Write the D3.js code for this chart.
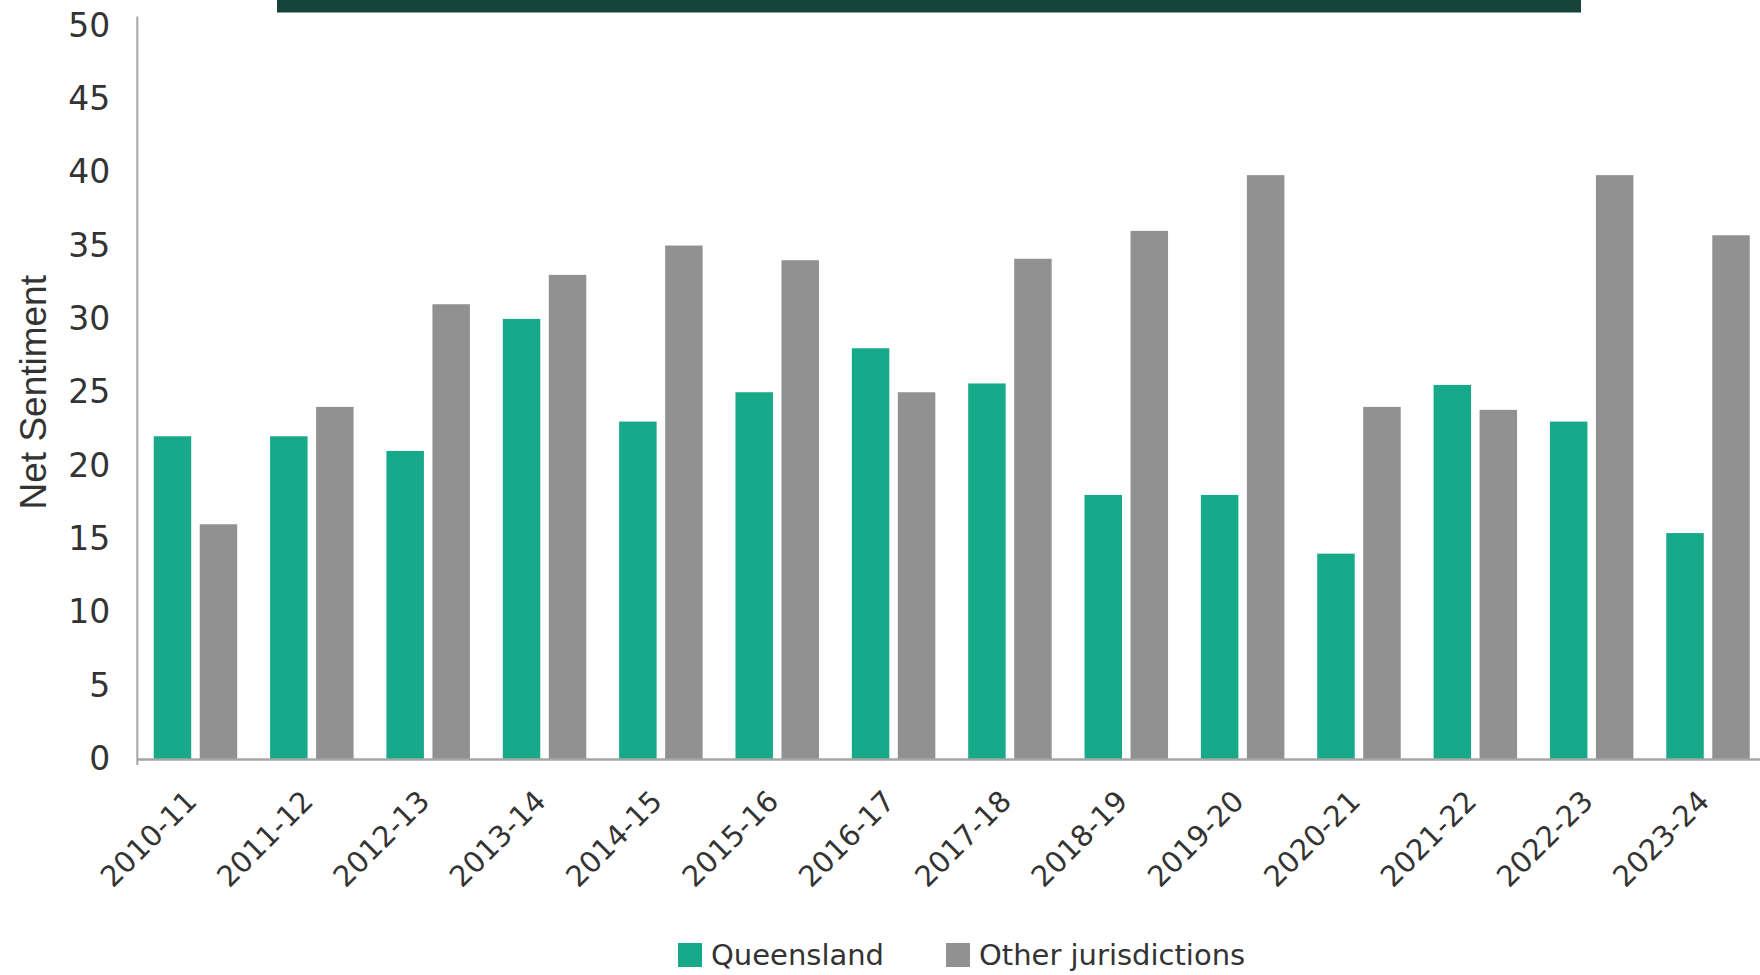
<!DOCTYPE html>
<html>
<head>
<meta charset="utf-8">
<script src="https://cdn.jsdelivr.net/npm/d3@7"></script>
<style>
  html, body { margin: 0; padding: 0; background: #ffffff; }
  svg { display: block; }
</style>
</head>
<body>
<svg id="chart" width="1760" height="975"></svg>
<script>
// ---- data ----
const categories = ["2010-11","2011-12","2012-13","2013-14","2014-15","2015-16","2016-17",
                    "2017-18","2018-19","2019-20","2020-21","2021-22","2022-23","2023-24"];
const seriesNames = ["Queensland", "Other jurisdictions"];
const queensland = [22, 22, 21, 30, 23, 25, 28, 25.6, 18, 18, 14, 25.5, 23, 15.4];
const otherJurisdictions = [16, 24, 31, 33, 35, 34, 25, 34.1, 36, 39.8, 24, 23.8, 39.8, 35.7];
const yTicks = [0, 5, 10, 15, 20, 25, 30, 35, 40, 45, 50];
const yTitle = "Net Sentiment";

// ---- styles / layout ----
const colors = { "Queensland": "#16aa8b", "Other jurisdictions": "#919191" };
const textColor = "#333333";
const axisColor = "#a6a6a6";
const plotLeft = 137.3, step = 116.35, yTop = 25.5, yBottom = 759;

const svg = d3.select("#chart");

// top banner
svg.append("rect").attr("x", 277).attr("y", 0).attr("width", 1304).attr("height", 12.5)
   .attr("fill", "#16433a");

const x0 = d3.scaleBand().domain(categories)
  .range([plotLeft, plotLeft + step * categories.length]).padding(0);
const x1 = d3.scaleBand().domain(seriesNames)
  .range([0, x0.bandwidth()]).paddingInner(0.185).paddingOuter(0.357);
const y = d3.scaleLinear().domain([0, 50]).range([yBottom, yTop]);

const rows = categories.map((c, i) => ({
  cat: c,
  vals: [
    { key: seriesNames[0], v: queensland[i] },
    { key: seriesNames[1], v: otherJurisdictions[i] }
  ]
}));

// bars
const g = svg.append("g");
g.selectAll("g.grp").data(rows).join("g")
  .attr("class", "grp")
  .attr("transform", d => `translate(${x0(d.cat)},0)`)
  .selectAll("rect").data(d => d.vals).join("rect")
  .attr("x", d => x1(d.key))
  .attr("width", x1.bandwidth())
  .attr("y", d => y(d.v))
  .attr("height", d => y(0) - y(d.v))
  .attr("fill", d => colors[d.key]);

// y axis
const yAxis = svg.append("g")
  .attr("transform", `translate(${plotLeft},0)`)
  .call(d3.axisLeft(y).tickValues(yTicks).tickSize(0).tickPadding(27).tickFormat(d3.format("d")));
yAxis.select(".domain").remove();
yAxis.selectAll("text")
  .attr("fill", textColor)
  .style("font-family", "'DejaVu Sans', sans-serif")
  .style("font-size", "33px");
yAxis.append("line")
  .attr("x1", 0).attr("x2", 0)
  .attr("y1", y(0) + 6).attr("y2", y(50) - 9)
  .attr("stroke", axisColor).attr("stroke-width", 2);

// x axis
const xAxis = svg.append("g")
  .attr("transform", `translate(0,${y(0)})`)
  .call(d3.axisBottom(x0).tickSize(0));
xAxis.select(".domain").attr("stroke", axisColor).attr("stroke-width", 2.5);
xAxis.selectAll("text")
  .attr("fill", textColor)
  .style("font-family", "'DejaVu Sans', sans-serif")
  .style("font-size", "29px")
  .attr("text-anchor", "end")
  .attr("dy", null)
  .attr("y", 0)
  .attr("transform", "translate(3,44) rotate(-45)");

// y title
svg.append("text")
  .attr("transform", `translate(46,${(y(0) + y(50)) / 2}) rotate(-90)`)
  .attr("text-anchor", "middle")
  .attr("fill", textColor)
  .style("font-family", "'Liberation Sans', Arial, sans-serif")
  .style("font-size", "37px")
  .text(yTitle);

// legend
const legendItems = [
  { key: seriesNames[0], x: 678 },
  { key: seriesNames[1], x: 946 }
];
const lg = svg.append("g");
const li = lg.selectAll("g").data(legendItems).join("g")
  .attr("transform", d => `translate(${d.x},943)`);
li.append("rect").attr("width", 24).attr("height", 24).attr("fill", d => colors[d.key]);
li.append("text")
  .attr("x", 33).attr("y", 12).attr("dy", "0.35em")
  .attr("fill", textColor)
  .style("font-family", "'DejaVu Sans', sans-serif")
  .style("font-size", "29px")
  .text(d => d.key);
</script>
</body>
</html>
